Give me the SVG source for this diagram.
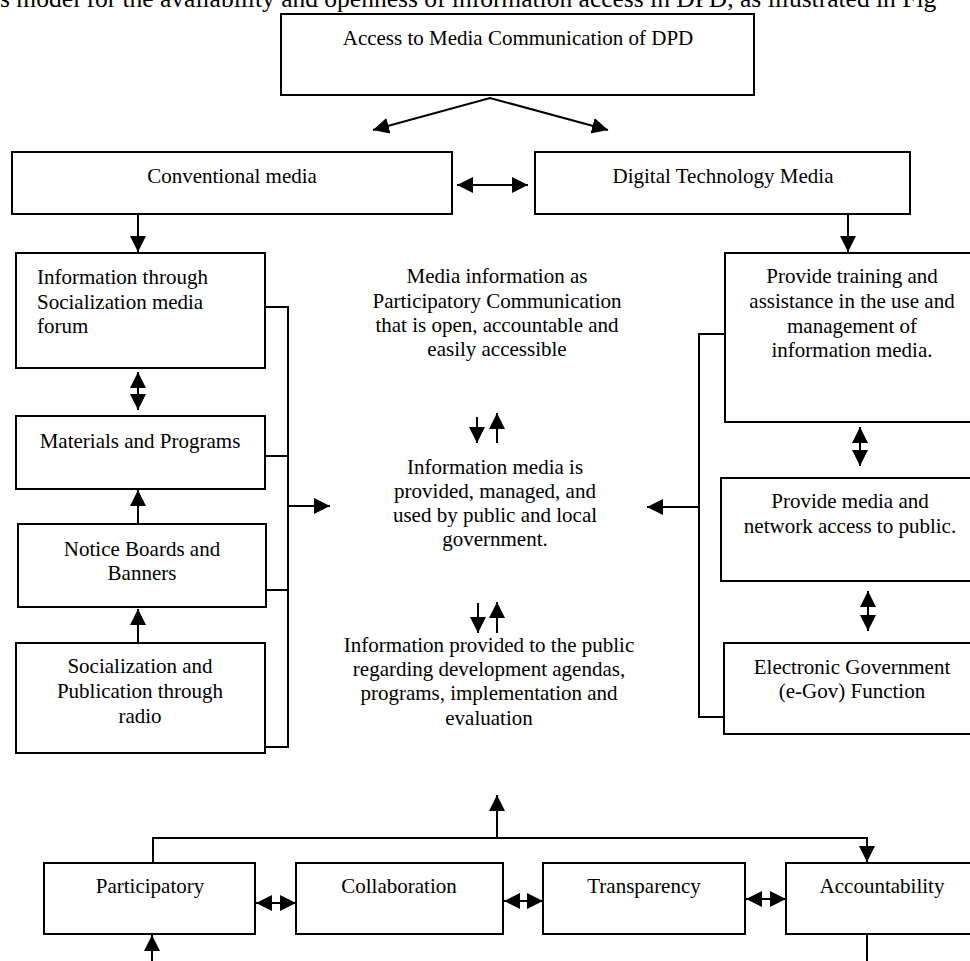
<svg xmlns="http://www.w3.org/2000/svg" width="970" height="961" viewBox="0 0 970 961">
<style>
  .box { fill: #ffffff; stroke: #000000; stroke-width: 2; }
  .t { font-family: "Liberation Serif", "Times New Roman", serif; font-size: 21px; fill: #000000; }
  .cap { font-family: "Liberation Serif", "Times New Roman", serif; font-size: 25.5px; fill: #000000; }
  .c { text-anchor: middle; }
  .ln { fill: none; stroke: #000000; stroke-width: 2; }
  .arr { fill: none; stroke: #000000; stroke-width: 2; marker-end: url(#ah); }
  .dbl { fill: none; stroke: #000000; stroke-width: 2; marker-start: url(#ah); marker-end: url(#ah); }
</style>
<defs>
  <marker id="ah" markerUnits="userSpaceOnUse" markerWidth="16" markerHeight="16" refX="15" refY="7.5" orient="auto-start-reverse" viewBox="0 0 15 15">
    <path d="M0,0 L15,7.5 L0,15 z" fill="#000000"/>
  </marker>
</defs>
<rect x="0" y="0" width="970" height="961" fill="#ffffff"/>

<text class="cap" x="0" y="7">s model for the availability and openness of information access in DPD, as illustrated in Fig</text>

<g id="connectors">
  <!-- top split -->
  <polyline class="ln" points="373,130 490,98 608,130" marker-start="url(#ah)" marker-end="url(#ah)"/>
  <!-- conventional <-> digital -->
  <line class="dbl" x1="457" y1="185" x2="528" y2="185"/>
  <!-- down arrows -->
  <line class="arr" x1="138" y1="214" x2="138" y2="252"/>
  <line class="arr" x1="848" y1="214" x2="848" y2="252"/>
  <!-- left column -->
  <line class="dbl" x1="138" y1="372" x2="138" y2="410"/>
  <line class="arr" x1="138" y1="524" x2="138" y2="490"/>
  <line class="arr" x1="138" y1="642" x2="138" y2="609"/>
  <!-- left bracket -->
  <polyline class="ln" points="265,307 288,307 288,747 265,747"/>
  <line class="ln" x1="265" y1="456" x2="288" y2="456"/>
  <line class="ln" x1="266" y1="590" x2="288" y2="590"/>
  <line class="arr" x1="288" y1="506" x2="330" y2="506"/>
  <!-- right column -->
  <line class="dbl" x1="860" y1="427" x2="860" y2="466"/>
  <line class="dbl" x1="868" y1="591" x2="868" y2="631"/>
  <polyline class="ln" points="725,334 699,334 699,717 724,717"/>
  <line class="arr" x1="699" y1="507" x2="647" y2="507"/>
  <!-- center pairs -->
  <line class="arr" x1="477" y1="417" x2="477" y2="443"/>
  <line class="arr" x1="497" y1="443" x2="497" y2="413"/>
  <line class="arr" x1="478" y1="603" x2="478" y2="633"/>
  <line class="arr" x1="497" y1="633" x2="497" y2="602"/>
  <!-- bottom -->
  <polyline class="ln" points="153,863 153,838 867,838 867,862" marker-end="url(#ah)"/>
  <line class="arr" x1="497" y1="838" x2="497" y2="795"/>
  <line class="dbl" x1="256" y1="903" x2="296" y2="903"/>
  <line class="dbl" x1="504" y1="901" x2="543" y2="901"/>
  <line class="dbl" x1="746" y1="899" x2="786" y2="899"/>
  <line class="arr" x1="152" y1="961" x2="152" y2="935"/>
  <line class="ln" x1="867" y1="934" x2="867" y2="961"/>
</g>

<g id="access">
  <rect class="box" x="281" y="14" width="473" height="81"/>
  <text class="t c" x="518" y="45">Access to Media Communication of DPD</text>
</g>
<g id="conventional">
  <rect class="box" x="12" y="152" width="440" height="62"/>
  <text class="t c" x="232" y="183">Conventional media</text>
</g>
<g id="digital">
  <rect class="box" x="535" y="152" width="375" height="62"/>
  <text class="t c" x="723" y="183">Digital Technology Media</text>
</g>
<g id="info-forum">
  <rect class="box" x="16" y="253" width="249" height="115"/>
  <text class="t" x="37" y="284">Information through</text>
  <text class="t" x="37" y="309">Socialization media</text>
  <text class="t" x="37" y="333">forum</text>
</g>
<g id="materials">
  <rect class="box" x="16" y="416" width="249" height="73"/>
  <text class="t c" x="140" y="448">Materials and Programs</text>
</g>
<g id="notice">
  <rect class="box" x="18" y="524" width="248" height="83"/>
  <text class="t c" x="142" y="556">Notice Boards and</text>
  <text class="t c" x="142" y="580">Banners</text>
</g>
<g id="radio">
  <rect class="box" x="16" y="643" width="249" height="110"/>
  <text class="t c" x="140" y="673">Socialization and</text>
  <text class="t c" x="140" y="698">Publication through</text>
  <text class="t c" x="140" y="723">radio</text>
</g>
<g id="training">
  <rect class="box" x="725" y="253" width="260" height="169"/>
  <text class="t c" x="852" y="283">Provide training and</text>
  <text class="t c" x="852" y="308">assistance in the use and</text>
  <text class="t c" x="852" y="333">management of</text>
  <text class="t c" x="852" y="357">information media.</text>
</g>
<g id="network">
  <rect class="box" x="721" y="478" width="265" height="103"/>
  <text class="t c" x="850" y="508">Provide media and</text>
  <text class="t c" x="850" y="533">network access to public.</text>
</g>
<g id="egov">
  <rect class="box" x="724" y="643" width="262" height="91"/>
  <text class="t c" x="852" y="674">Electronic Government</text>
  <text class="t c" x="852" y="698">(e-Gov) Function</text>
</g>
<g id="participatory-comm">
  <text class="t c" x="497" y="283">Media information as</text>
  <text class="t c" x="497" y="308">Participatory Communication</text>
  <text class="t c" x="497" y="332">that is open, accountable and</text>
  <text class="t c" x="497" y="356">easily accessible</text>
</g>
<g id="info-managed">
  <text class="t c" x="495" y="474">Information media is</text>
  <text class="t c" x="495" y="498">provided, managed, and</text>
  <text class="t c" x="495" y="522">used by public and local</text>
  <text class="t c" x="495" y="546">government.</text>
</g>
<g id="info-public">
  <text class="t c" x="489" y="652">Information provided to the public</text>
  <text class="t c" x="489" y="676">regarding development agendas,</text>
  <text class="t c" x="489" y="700">programs, implementation and</text>
  <text class="t c" x="489" y="725">evaluation</text>
</g>
<g id="participatory">
  <rect class="box" x="44" y="863" width="211" height="71"/>
  <text class="t c" x="150" y="893">Participatory</text>
</g>
<g id="collaboration">
  <rect class="box" x="296" y="863" width="207" height="71"/>
  <text class="t c" x="399" y="893">Collaboration</text>
</g>
<g id="transparency">
  <rect class="box" x="543" y="863" width="202" height="71"/>
  <text class="t c" x="644" y="893">Transparency</text>
</g>
<g id="accountability">
  <rect class="box" x="786" y="863" width="195" height="71"/>
  <text class="t c" x="882" y="893">Accountability</text>
</g>
</svg>
